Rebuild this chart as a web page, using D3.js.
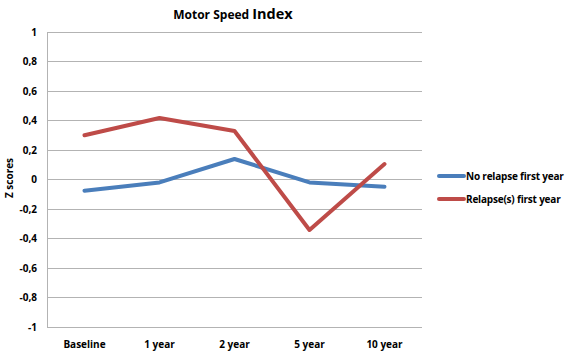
<!DOCTYPE html>
<html><head><meta charset="utf-8">
<script src="https://cdn.jsdelivr.net/npm/d3@7"></script>
<style>body{margin:0;background:#fff}svg{display:block}text{font-family:"Open Sans",sans-serif;font-weight:bold;fill:#000}</style>
</head><body><svg id="c" width="567" height="354"></svg>
<script>
const categories = ["Baseline","1 year","2 year","5 year","10 year"];
const noRelapse = [-0.076,-0.02,0.139,-0.02,-0.049];
const relapse = [0.30,0.417,0.329,-0.342,0.105];
const seriesNames = ["No relapse first year","Relapse(s) first year"];
const yTicks = [1,0.8,0.6,0.4,0.2,0,-0.2,-0.4,-0.6,-0.8,-1];

const svg = d3.select("#c");
const L=47,R=422,T=32,B=327;
const x = d3.scaleBand().domain(categories).range([L,R]);
const y = d3.scaleLinear().domain([-1,1]).range([B,T]);
const fmt = v => String(+v.toFixed(1)).replace(".",",");

svg.append("g").selectAll("line").data(yTicks).join("line")
  .attr("x1",L).attr("x2",R).attr("y1",d=>y(d)).attr("y2",d=>y(d))
  .attr("stroke","#b3b3b3").attr("stroke-width",1).attr("shape-rendering","crispEdges");
svg.append("line").attr("x1",L).attr("x2",L).attr("y1",T).attr("y2",B)
  .attr("stroke","#b3b3b3").attr("shape-rendering","crispEdges");

svg.append("g").selectAll("text").data(yTicks).join("text")
  .attr("x",37).attr("y",d=>y(d)).attr("dy","0.35em").attr("text-anchor","end")
  .attr("font-size",10).text(fmt);

svg.append("g").selectAll("text").data(categories).join("text")
  .attr("x",d=>x(d)+x.bandwidth()/2).attr("y",348).attr("text-anchor","middle")
  .attr("font-size",10).text(d=>d);

svg.append("text").attr("transform","translate(13,178) rotate(-90)")
  .attr("text-anchor","middle").attr("font-size",10).text("Z scores");

const title = svg.append("text").attr("x",233).attr("y",19).attr("text-anchor","middle");
title.append("tspan").attr("font-size",12).text("Motor Speed ");
title.append("tspan").attr("font-size",14.5).text("Index");

const line = d3.line().x((d,i)=>x(categories[i])+x.bandwidth()/2).y(d=>y(d));
const colors = ["#4a7ebb","#be4b48"];
[noRelapse,relapse].forEach((s,i)=>{
  svg.append("path").attr("d",line(s)).attr("fill","none")
    .attr("stroke",colors[i]).attr("stroke-width",4).attr("stroke-linejoin","round").attr("stroke-linecap","round");
});

const lg = svg.append("g");
seriesNames.forEach((n,i)=>{
  const yy = 176 + i*23;
  lg.append("line").attr("x1",439).attr("x2",464).attr("y1",yy).attr("y2",yy)
    .attr("stroke",colors[i]).attr("stroke-width",4).attr("stroke-linecap","round");
  lg.append("text").attr("x",466).attr("y",yy).attr("dy","0.35em").attr("font-size",10)
    .attr("letter-spacing","-0.2").text(n);
});
</script></body></html>
